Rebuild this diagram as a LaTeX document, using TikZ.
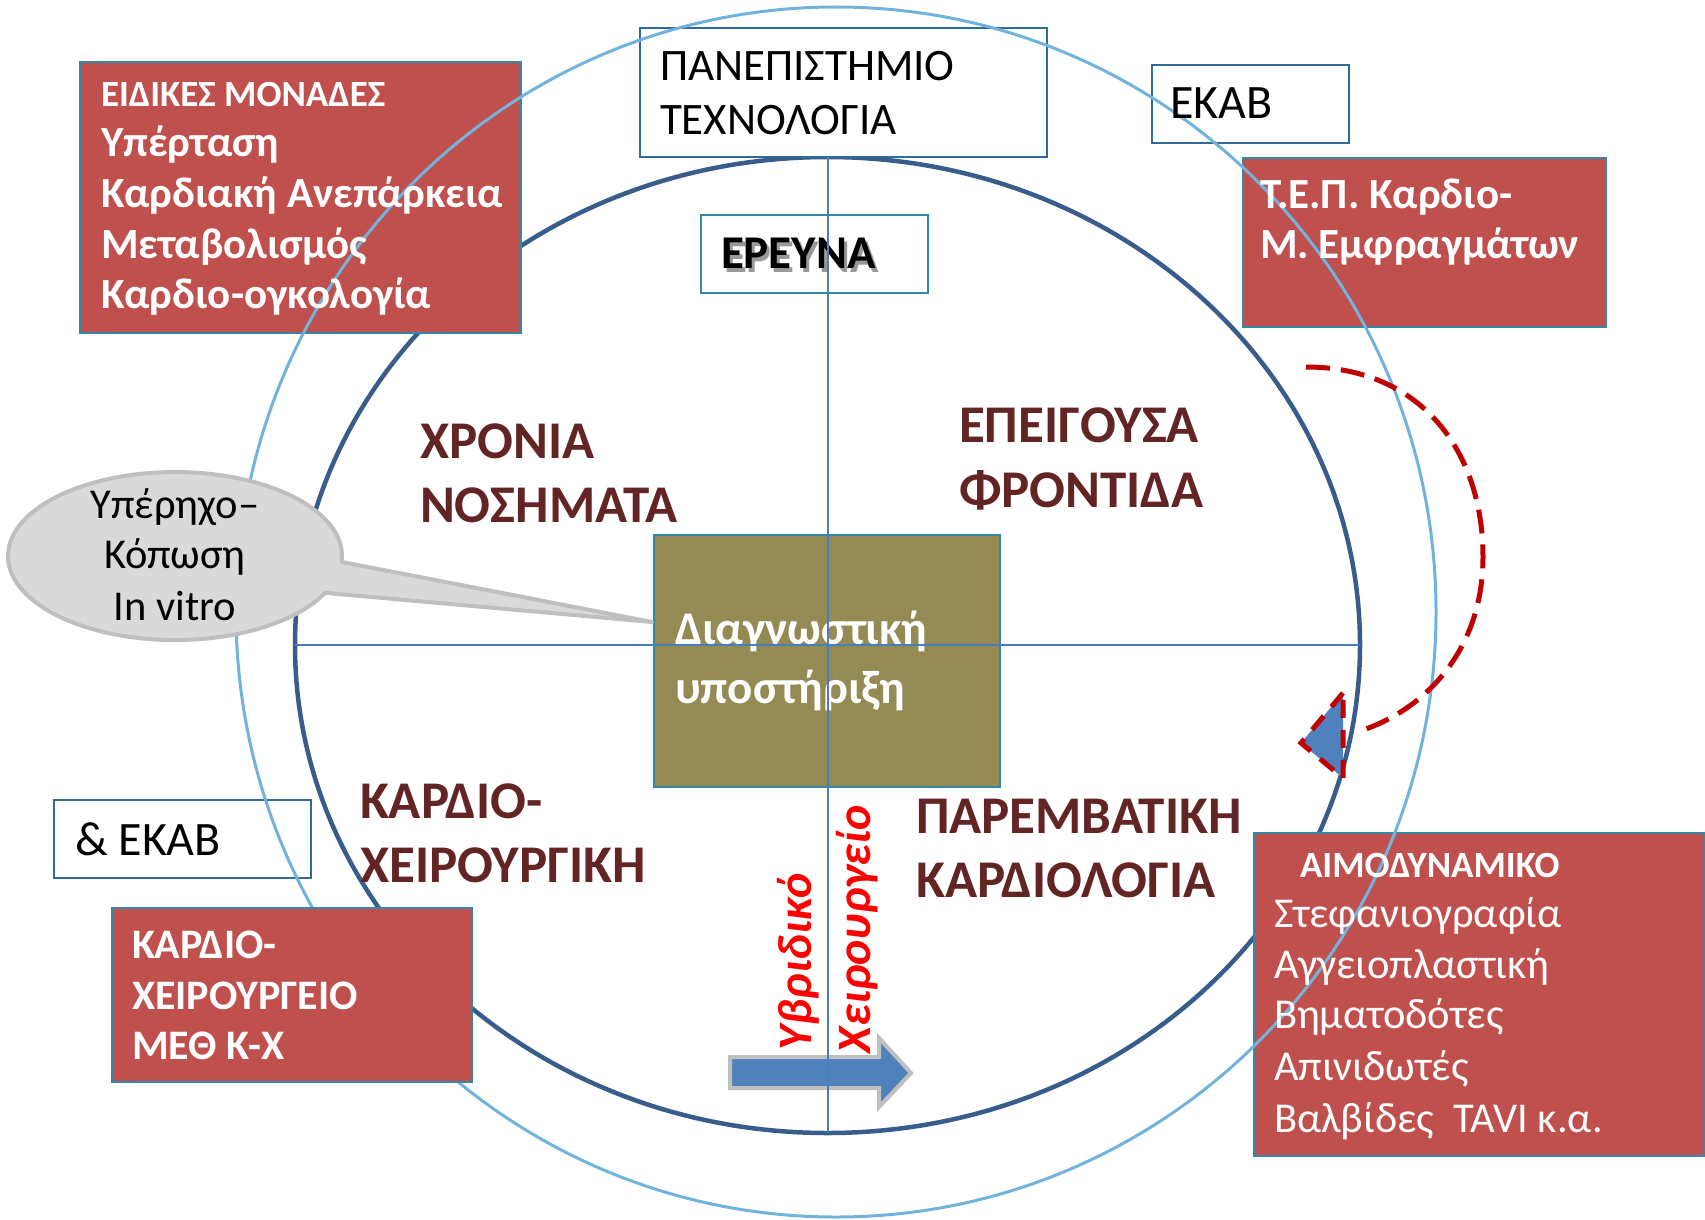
\documentclass[tikz,border=0pt]{standalone}
\usepackage{fontspec}
\setmainfont{Carlito}
\definecolor{boxred}{HTML}{C0504D}
\definecolor{boxedge}{HTML}{3488A3}
\definecolor{wbedge}{HTML}{2F6C99}
\definecolor{darkell}{HTML}{385D8A}
\definecolor{lightcirc}{HTML}{72B3DC}
\definecolor{axisblue}{HTML}{4A7EBB}
\definecolor{olive}{HTML}{948A54}
\definecolor{darkred}{HTML}{632523}
\definecolor{dashred}{HTML}{C00000}
\definecolor{arrowblue}{HTML}{4F81BD}
\definecolor{calloutfill}{HTML}{D9D9D9}
\definecolor{calloutedge}{HTML}{BFBFBF}
\tikzset{
  anybox/.style={inner sep=0pt, outer sep=0pt, anchor=north west, line width=2.5pt},
  redbox/.style={anybox, draw=boxedge, fill=boxred},
  whitebox/.style={anybox, draw=wbedge, fill=white},
  olivebox/.style={anybox, draw=boxedge, fill=olive},
  lbl/.style={anchor=base west, inner sep=0pt, outer sep=0pt},
  wbold/.style={lbl, text=white, font=\fontsize{43}{50}\selectfont\bfseries},
  wreg/.style={lbl, text=white, font=\fontsize{42.5}{50}\selectfont},
  breg/.style={lbl, text=black, font=\fontsize{45}{52}\selectfont},
  quad/.style={lbl, text=darkred, font=\fontsize{53}{62}\selectfont\bfseries},
  redit/.style={lbl, rotate=90, text=red, font=\fontsize{48}{56}\selectfont\bfseries\itshape},
}
\begin{document}
\begin{tikzpicture}[x=1pt, y=-1pt]
\useasboundingbox (0,0) rectangle (1705,1220);
\fill[white] (0,0) rectangle (1705,1220);

% inner ellipse
\draw[darkell, line width=4.5pt] (827.5,645) ellipse[x radius=532.5, y radius=488];

% boxes under the light circle
\node[redbox, minimum width=441pt, minimum height=271pt] (eidbox) at (80,62) {};
\node[redbox, minimum width=363pt, minimum height=169pt] (tepbox) at (1243,158) {};
\node[redbox, minimum width=450pt, minimum height=323pt] (aimbox) at (1254,833) {};
\node[whitebox, minimum width=407pt, minimum height=129pt] (panbox) at (640,28) {};
\node[whitebox, minimum width=197pt, minimum height=78pt] (ekabbox) at (1152,65) {};
\node[whitebox, minimum width=257pt, minimum height=78pt] (ekab2box) at (54,800) {};
\node[whitebox, draw=boxedge, minimum width=227pt, minimum height=78pt] (erbox) at (701,215) {};
\node[olivebox, minimum width=346pt, minimum height=252pt] (diagbox) at (654,535) {};

% light outer circle
\draw[lightcirc, line width=3pt] (836,612) ellipse[x radius=600, y radius=605];

% boxes over the light circle
\node[redbox, minimum width=360pt, minimum height=174pt] (khbox) at (112,908) {};
\filldraw[fill=calloutfill, draw=calloutedge, line width=4pt, line join=round]
  (341.6,561.9) arc[start angle=4, end angle=-334, x radius=167, y radius=84]
  -- (652,622) -- cycle;
\coordinate (calloutc) at (175,556);

% block arrow
\filldraw[fill=arrowblue, draw=calloutedge, line width=4pt]
  (730,1057) -- (879,1057) -- (879,1038) -- (911,1073) -- (879,1107) -- (879,1088) -- (730,1088) -- cycle;

% texts
\node[lbl, text=white, font=\fontsize{37}{44}\selectfont\bfseries] (t1) at (101,107) {ΕΙΔΙΚΕΣ ΜΟΝΑΔΕΣ};
\node[wbold] (t2) at (101,157) {Υπέρταση};
\node[wbold] (t3) at (101,207) {Καρδιακή Ανεπάρκεια};
\node[wbold] (t4) at (101,258) {Μεταβολισμός};
\node[wbold] (t5) at (101,308) {Καρδιο-ογκολογία};

\node[breg] (p1) at (660,81) {ΠΑΝΕΠΙΣΤΗΜΙΟ};
\node[breg] (p2) at (660,135) {ΤΕΧΝΟΛΟΓΙΑ};
\node[breg, font=\fontsize{48}{56}\selectfont] (ek1) at (1170,119) {ΕΚΑΒ};

\node[wbold] (tp1) at (1260,208) {Τ.Ε.Π. Καρδιο-};
\node[wbold] (tp2) at (1260,258) {Μ. Εμφραγμάτων};

\node[lbl, text=black, font=\fontsize{47}{54}\selectfont\bfseries] (er) at (721,268)
  {\rlap{\hspace{3pt}\raisebox{-4pt}{\color{black!40}ΕΡΕΥΝΑ}}ΕΡΕΥΝΑ};

\node[lbl, text=white, font=\fontsize{47}{54}\selectfont\bfseries] (dg1) at (675,644) {Διαγνωστική};
\node[lbl, text=white, font=\fontsize{47}{54}\selectfont\bfseries] (dg2) at (675,703) {υποστήριξη};

\node[breg, anchor=base, font=\fontsize{42.5}{50}\selectfont] (c1) at (175,518) {Υπέρηχο–};
\node[breg, anchor=base, font=\fontsize{42.5}{50}\selectfont] (c2) at (175,568) {Κόπωση};
\node[breg, anchor=base, font=\fontsize{42.5}{50}\selectfont] (c3) at (175,620) {In vitro};

\node[lbl, text=white, font=\fontsize{37}{44}\selectfont\bfseries] (a0) at (1300,877) {ΑΙΜΟΔΥΝΑΜΙΚΟ};
\node[wreg] (a1) at (1274,927) {Στεφανιογραφία};
\node[wreg] (a2) at (1274,978) {Αγγειοπλαστική};
\node[wreg] (a3) at (1274,1028) {Βηματοδότες};
\node[wreg] (a4) at (1274,1080) {Απινιδωτές};
\node[wreg] (a5) at (1274,1132) {Βαλβίδες\ \ TAVI κ.α.};

\node[breg, font=\fontsize{48}{56}\selectfont] (ek2) at (75,855) {\& ΕΚΑΒ};

\node[wbold, font=\fontsize{42}{50}\selectfont\bfseries] (k1) at (132,958) {ΚΑΡΔΙΟ-};
\node[wbold, font=\fontsize{42}{50}\selectfont\bfseries] (k2) at (132,1009) {ΧΕΙΡΟΥΡΓΕΙΟ};
\node[wbold, font=\fontsize{42}{50}\selectfont\bfseries] (k3) at (132,1059) {ΜΕΘ Κ-Χ};

\node[quad] (q1a) at (420,458) {ΧΡΟΝΙΑ};
\node[quad] (q1b) at (420,522) {ΝΟΣΗΜΑΤΑ};
\node[quad] (q2a) at (959,442) {ΕΠΕΙΓΟΥΣΑ};
\node[quad] (q2b) at (959,507) {ΦΡΟΝΤΙΔΑ};
\node[quad] (q3a) at (360,818) {ΚΑΡΔΙΟ-};
\node[quad] (q3b) at (360,882) {ΧΕΙΡΟΥΡΓΙΚΗ};
\node[quad] (q4a) at (916,833) {ΠΑΡΕΜΒΑΤΙΚΗ};
\node[quad] (q4b) at (916,897) {ΚΑΡΔΙΟΛΟΓΙΑ};

\node[redit] (hy) at (811,1050) {Υβριδικό};
\node[redit] (hx) at (870,1053) {Χειρουργείο};

% axes (drawn over boxes and texts)
\coordinate (vtop) at (828,157);
\coordinate (vbot) at (828,1133);
\coordinate (hl) at (295,645);
\coordinate (hr) at (1360,645);
\draw[axisblue, line width=2pt] (vtop) -- (vbot);
\draw[axisblue, line width=2pt] (hl) -- (hr);

% dashed red loop with triangle head
\coordinate (ds) at (1306,367);
\coordinate (dm) at (1483,557);
\coordinate (de) at (1360,731);
\coordinate (tt) at (1343,693);
\coordinate (tl) at (1301,743);
\coordinate (tb) at (1343,778);
\fill[arrowblue] (tt) -- (tl) -- (tb) -- cycle;
\draw[dashred, line width=5pt, dash pattern=on 24pt off 11pt]
  (ds) .. controls (1420,367) and (1483,450) .. (dm)
       .. controls (1483,650) and (1425,710) .. (de);
\draw[dashred, line width=5pt, dash pattern=on 18pt off 12pt] (tt) -- (tl) -- (tb) -- cycle;
\end{tikzpicture}
\end{document}
